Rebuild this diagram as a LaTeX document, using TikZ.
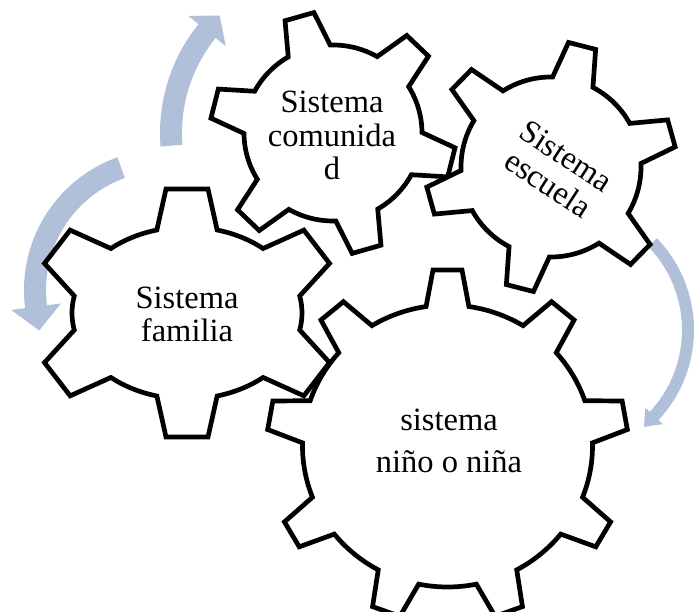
\documentclass[tikz,border=0pt]{standalone}
\usepackage{fontspec}
\setmainfont{Liberation Serif}
\usetikzlibrary{calc}
\definecolor{arrowc}{RGB}{176,192,217}
\tikzset{
  gearline/.style={draw=black, line width=4.7pt, fill=white, line join=miter, miter limit=10},
  lbl/.style={align=center, font=\fontsize{32.5}{33.5}\selectfont, inner sep=0pt, text=black},
  lblwide/.style={lbl, font=\fontsize{32.5}{42}\selectfont},
  arrowband/.style={fill=arrowc, draw=none},
}
% \mkgear{a}{b}{n}{phase}{tooth height}{base width}{tip width}
\newcommand\mkgear[7]{%
  \gdef\gearpathtmp{}%
  \foreach \k in {1,...,#3}{%
    \pgfmathsetmacro\gqph{#4+360/#3*(\k-1)}%
    \pgfmathsetmacro\gqpn{#4+360/#3*\k}%
    \pgfmathsetmacro\gqL{100*sqrt((#1/100*sin(\gqph))^2+(#2/100*cos(\gqph))^2)}%
    \pgfmathsetmacro\gqLn{100*sqrt((#1/100*sin(\gqpn))^2+(#2/100*cos(\gqpn))^2)}%
    \pgfmathsetmacro\gqd{(#6/2)/\gqL*180/pi}%
    \pgfmathsetmacro\gqdn{(#6/2)/\gqLn*180/pi}%
    \pgfmathsetmacro\gqps{atan2(#1*sin(\gqph),#2*cos(\gqph))}%
    \pgfmathsetmacro\gqbx{#1*cos(\gqph)}%
    \pgfmathsetmacro\gqby{#2*sin(\gqph)}%
    \pgfmathsetmacro\gqax{#1*cos(\gqph-\gqd)}%
    \pgfmathsetmacro\gqay{#2*sin(\gqph-\gqd)}%
    \pgfmathsetmacro\gqcx{#1*cos(\gqph+\gqd)}%
    \pgfmathsetmacro\gqcy{#2*sin(\gqph+\gqd)}%
    \pgfmathsetmacro\gqtax{\gqbx+#5*cos(\gqps)+#7/2*sin(\gqps)}%
    \pgfmathsetmacro\gqtay{\gqby+#5*sin(\gqps)-#7/2*cos(\gqps)}%
    \pgfmathsetmacro\gqtcx{\gqbx+#5*cos(\gqps)-#7/2*sin(\gqps)}%
    \pgfmathsetmacro\gqtcy{\gqby+#5*sin(\gqps)+#7/2*cos(\gqps)}%
    \pgfmathsetmacro\gqsa{\gqph+\gqd}%
    \pgfmathsetmacro\gqea{\gqpn-\gqdn}%
    \xdef\gearpathtmp{\gearpathtmp (\gqax,\gqay) -- (\gqtax,\gqtay) -- (\gqtcx,\gqtcy) -- (\gqcx,\gqcy) arc[start angle=\gqsa, end angle=\gqea, x radius=#1, y radius=#2] -- }%
  }%
}
% \bandarrow{center}{r}{half band}{start}{head base}{head length}{head half width}{sign}
\newcommand\bandarrow[8]{%
  \pgfmathsetmacro\baro{#2+#3}%
  \pgfmathsetmacro\bari{#2-#3}%
  \pgfmathsetmacro\barho{#2+#7}%
  \pgfmathsetmacro\barhi{#2-#7}%
  \pgfmathsetmacro\bart{#5+#8*90}%
  \fill[arrowband] ($(#1)+(#4:\baro)$) arc[start angle=#4, end angle=#5, radius=\baro]
    -- ($(#1)+(#5:\barho)$) -- ($(#1)+(#5:#2)+(\bart:#6)$) -- ($(#1)+(#5:\barhi)$)
    -- ($(#1)+(#5:\bari)$) arc[start angle=#5, end angle=#4, radius=\bari] -- cycle;
}
\begin{document}
\begin{tikzpicture}[x=1pt,y=1pt]
\useasboundingbox (0,0) rectangle (694,612);
\coordinate (cNino) at (447.5,166);
\coordinate (cFam) at (187,299);
\coordinate (cCom) at (333,479);
\coordinate (cEsc) at (551,445);
\coordinate (cA2) at (165,322);
\coordinate (cA3) at (562,282);
% circular arrows
\bandarrow{cCom}{162}{11}{184.5}{141}{20}{24}{-1}
\bandarrow{cA2}{130}{11}{109.7}{187.4}{24}{25}{1}
\bandarrow{cA3}{126}{6}{44}{-43}{15}{12}{-1}
% gears
\mkgear{145}{141}{9}{90}{35}{43}{29}
\begin{scope}[shift={(cNino)}]\draw[gearline] \gearpathtmp cycle;\end{scope}
\mkgear{115}{86}{6}{90}{38}{61}{42}
\begin{scope}[shift={(cFam)}]\draw[gearline] \gearpathtmp cycle;\end{scope}
\mkgear{89}{88}{6}{106}{33}{44}{30}
\begin{scope}[shift={(cCom)}]\draw[gearline] \gearpathtmp cycle;\end{scope}
\mkgear{90}{90}{6}{15.6}{35}{42}{28}
\begin{scope}[shift={(cEsc)}]\draw[gearline] \gearpathtmp cycle;\end{scope}
% labels
\node[lbl] (tFam) at (187,297.5) {Sistema\\familia};
\node[lbl] (tCom) at (332,476.5) {Sistema\\comunida\\d};
\node[lbl, rotate=-33] (tEsc) at (557,442) {Sistema\\escuela};
\node[lblwide] (tNino) at (449,171.5) {sistema\\niño o niña};
\end{tikzpicture}
\end{document}
